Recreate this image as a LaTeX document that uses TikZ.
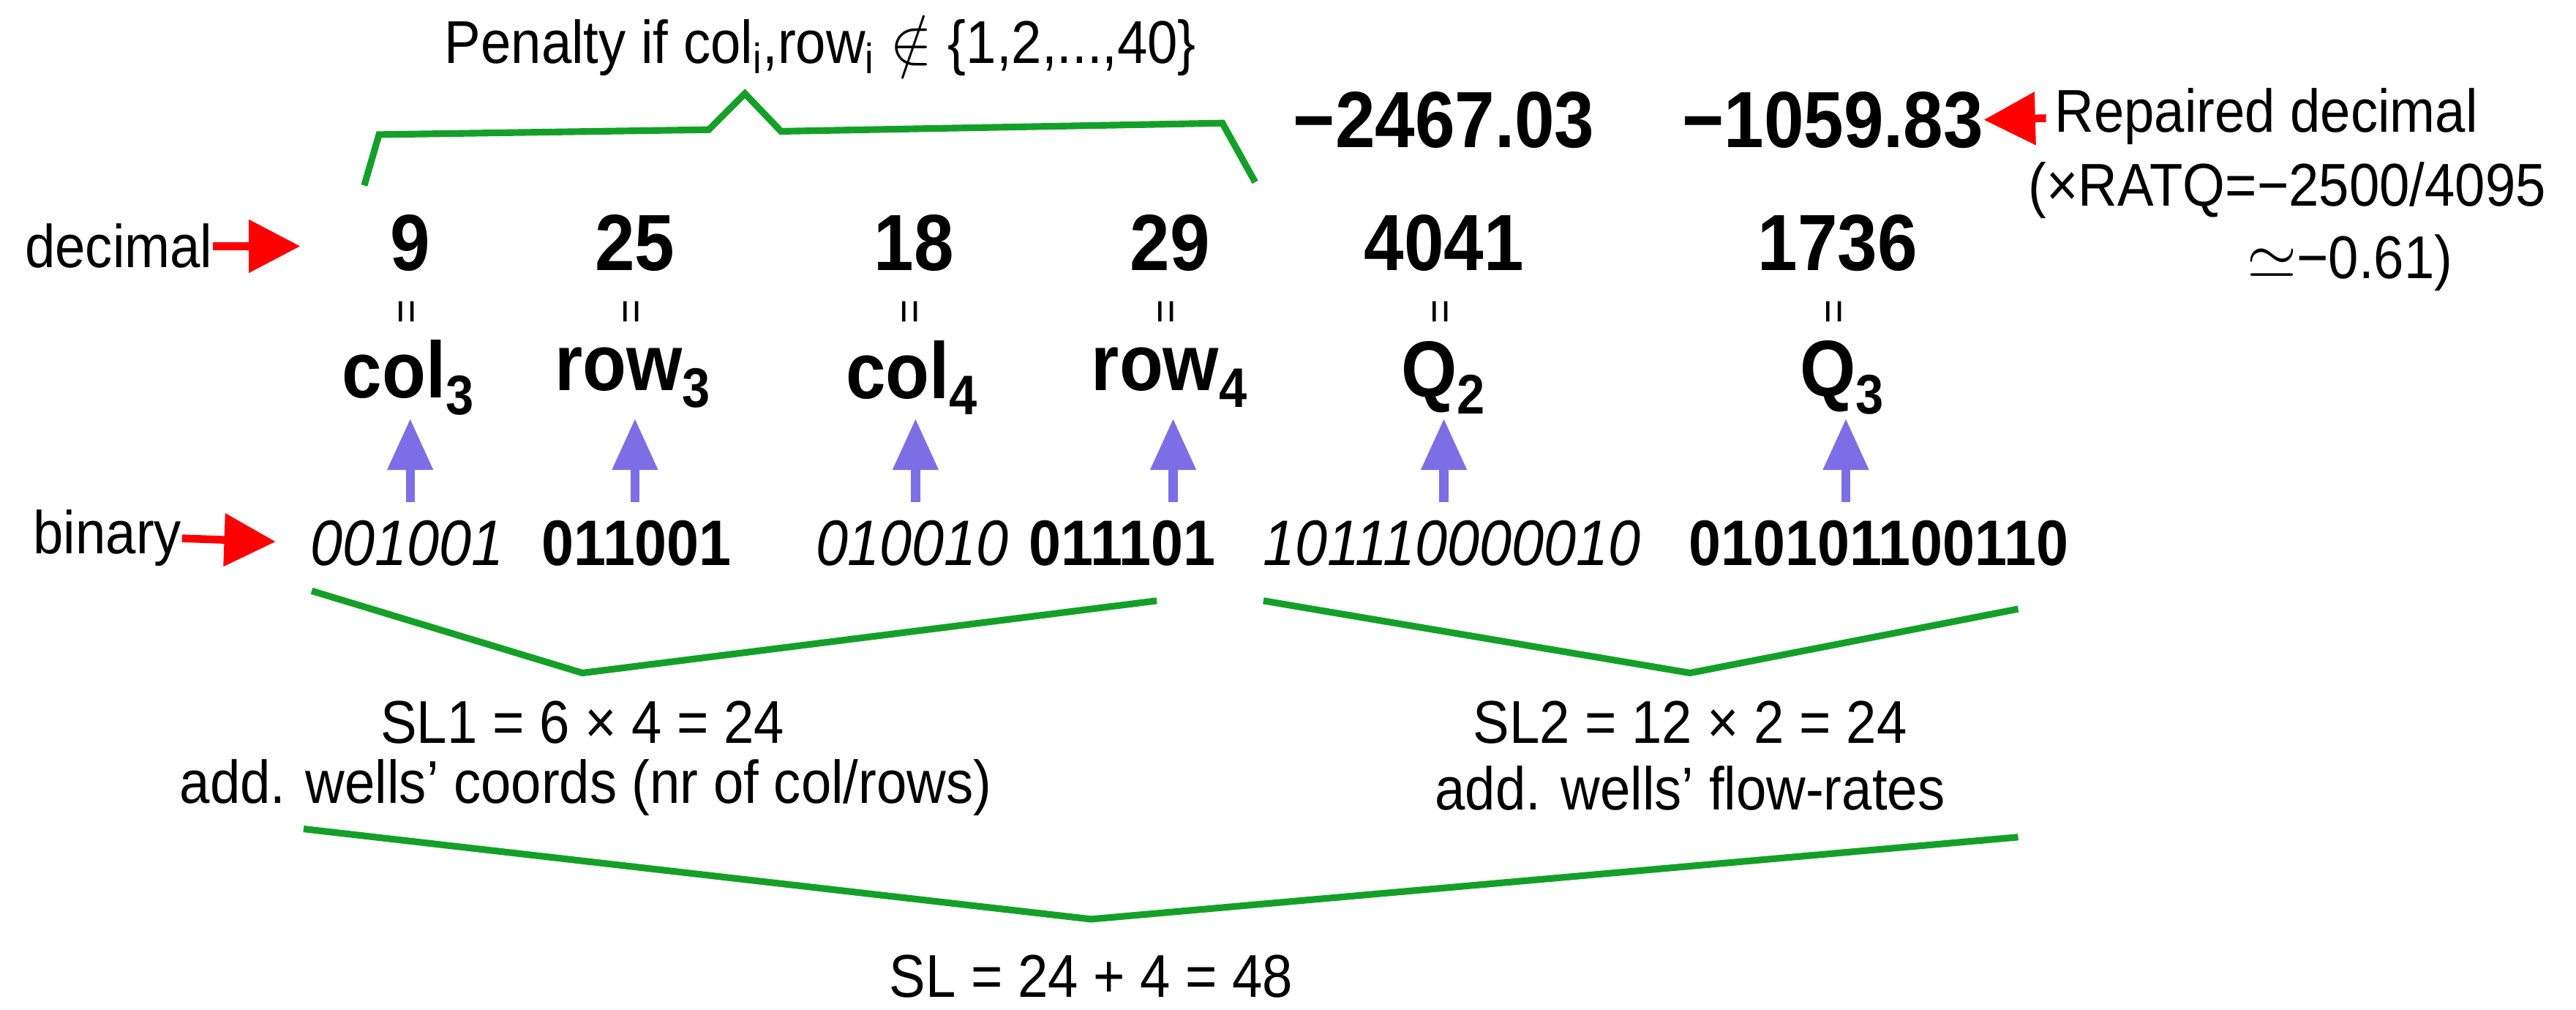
\documentclass[tikz,border=0pt]{standalone}
\usepackage{fontspec}
\setmainfont[FakeStretch=0.9]{Liberation Sans}
\usetikzlibrary{arrows.meta}
\begin{document}
\begin{tikzpicture}[x=0.02243cm,y=-0.02243cm,
  num/.style={font=\fontsize{31}{34}\selectfont\bfseries, inner sep=0pt},
  txt/.style={font=\fontsize{23.5}{26}\selectfont, inner sep=0pt},
  bin/.style={font=\fontsize{25}{28}\selectfont\itshape, inner sep=0pt},
  binb/.style={font=\fontsize{25}{28}\selectfont\bfseries, inner sep=0pt},
  eqs/.style={font=\fontsize{18}{20}\selectfont, inner sep=0pt, rotate=90},
  brace/.style={draw={rgb,255:red,20;green,160;blue,40}, line width=2.6pt, line join=miter},
  redarr/.style={draw=red, line width=3pt, -{Triangle[length=20pt,width=20pt]}},
  bluearr/.style={draw={rgb,255:red,125;green,110;blue,230}, line width=3.5pt, -{Triangle[length=20pt,width=17pt]}}]
\useasboundingbox (0,0) rectangle (1570,615);
% top brace
\node[txt] (pen) at (500,28) {Penalty if col\textsubscript{i},row\textsubscript{i} $\notin$ \{1,2,...,40\}};
\draw[brace] (222,113) -- (231,82) -- (432,79) -- (454,57) -- (476,80) -- (745,75) -- (765,111);
% repaired
\node[num] (r1) at (880,73) {\textminus2467.03};
\node[num] (r2) at (1117,73) {\textminus1059.83};
\node[txt, anchor=west] (rep) at (1252,71) {Repaired decimal};
\node[txt, anchor=west] (ratq) at (1236,116) {(×RATQ=\textminus2500/4095};
\node[txt, anchor=east] (apx) at (1495,160) {$\simeq$\textminus0.61)};
\coordinate (repa) at (1247,72);
\draw[redarr] (repa) -- (r2.east);
% decimal row
\node[txt, anchor=west] (dec) at (15,150) {decimal};
\coordinate (deca) at (183,150);
\draw[redarr] (dec.east) -- (deca);
\foreach \x/\v/\n in {250/9/d1,387/25/d2,557/18/d3,713/29/d4,880/4041/d5,1120/1736/d6}
  \node[num] (\n) at (\x,148) {\v};
\foreach \x/\n in {250/e1,387/e2,557/e3,713/e4,880/e5,1120/e6}
  \node[eqs] (\n) at (\x,190) {=};
\node[num] (c1) at (249,230) {col\textsubscript{3}};
\node[num] (c2) at (386,230) {row\textsubscript{3}};
\node[num] (c3) at (556,230) {col\textsubscript{4}};
\node[num] (c4) at (713,230) {row\textsubscript{4}};
\node[num] (c5) at (880,230) {Q\textsubscript{2}};
\node[num] (c6) at (1123,230) {Q\textsubscript{3}};
% binary row
\node[txt, anchor=west] (bin) at (20,328) {binary};
\coordinate (bina) at (168,330);
\draw[redarr] (bin.east) -- (bina);
\node[bin] (b1) at (248,331) {001001};
\node[binb] (b2) at (388,331) {011001};
\node[bin] (b3) at (556,331) {010010};
\node[binb] (b4) at (684,331) {011101};
\node[bin] (b5) at (885,331) {101110000010};
\node[binb] (b6) at (1145,331) {010101100110};
\foreach \x/\n in {250/c1,387/c2,558/c3,715/c4,880/c5,1125/c6}{
  \coordinate (s\n) at (\x,306);
  \coordinate (t\n) at (\x,255);
  \draw[bluearr] (s\n) -- (t\n);}
% lower braces
\draw[brace] (190,360) -- (355,410) -- (705,366);
\draw[brace] (770,366) -- (1030,410) -- (1230,371);
\node[txt] (sl1) at (355,440) {SL1 = 6 × 4 = 24};
\node[txt] (sl1b) at (357,480) {add. wells’ coords (nr of col/rows)};
\node[txt] (sl2) at (1030,440) {SL2 = 12 × 2 = 24};
\node[txt] (sl2b) at (1030,480) {add. wells’ flow-rates};
\draw[brace] (185,505) -- (665,560) -- (1230,510);
\node[txt] (sl) at (665,595) {SL = 24 + 4 = 48};
\end{tikzpicture}
\end{document}
